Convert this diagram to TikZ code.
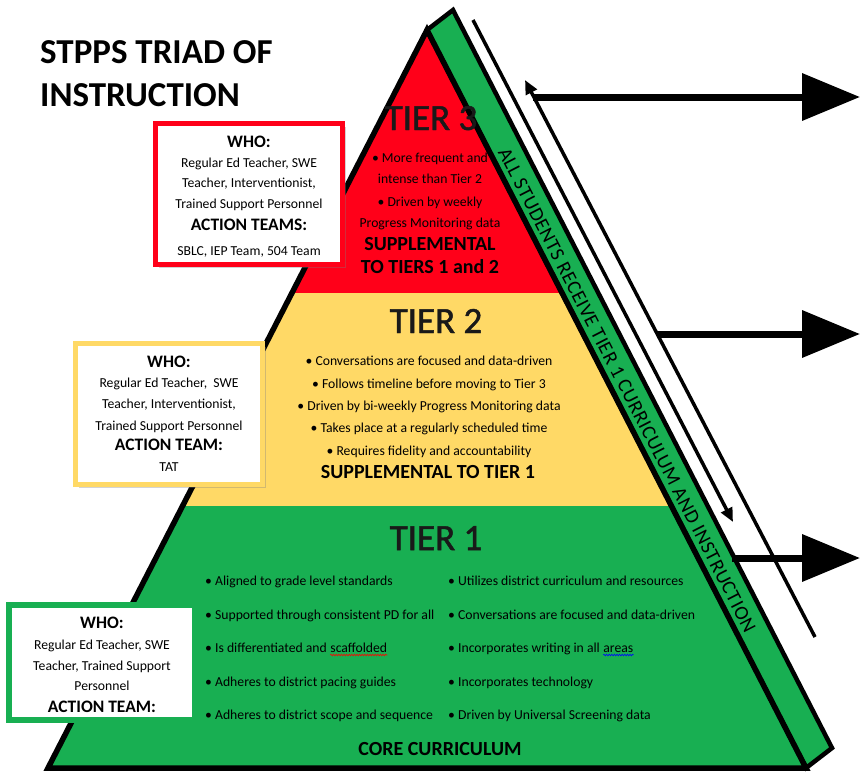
\documentclass[tikz,border=0pt]{standalone}
\usepackage{fontspec}
\setmainfont{Carlito}
\usetikzlibrary{arrows.meta,shadows,decorations.pathmorphing}

\definecolor{tierred}{RGB}{255,0,25}
\definecolor{tieryellow}{RGB}{255,217,102}
\definecolor{tiergreen}{RGB}{24,175,82}

\newcommand{\tierbody}{\fontsize{13.7}{16}\selectfont}
\newcommand{\tierbold}{\fontsize{20}{22}\selectfont\bfseries}
\newcommand{\boxbold}{\fontsize{17.5}{20}\selectfont\bfseries}

\tikzset{
  whobox/.style={draw=#1, line width=5pt, fill=white, minimum width=187pt, minimum height=141pt,
    drop shadow={shadow xshift=3pt, shadow yshift=-3pt, opacity=0.35}},
  tierhead/.style={font=\fontsize{37}{37}\selectfont\addfontfeature{FakeBold=1.3}, text=black!90,
    inner sep=0pt, anchor=base},
  bigarrow/.style={line width=7pt, -{Triangle[length=58pt,width=46pt]}},
  slimarrow/.style={line width=3.5pt, -{Triangle[length=14pt,width=12pt]}},
  spellmark/.style={draw=#1, line width=0.6pt, decorate,
    decoration={snake, amplitude=0.8pt, segment length=2.6pt}}
}

\begin{document}
\begin{tikzpicture}[x=1pt,y=-1pt]
\useasboundingbox (0,0) rectangle (860,772);

\fill[tierred] (427,30) -- (562,293) -- (292,293) -- cycle;
\fill[tieryellow] (292,293) -- (562,293) -- (671.5,506) -- (182.5,506) -- cycle;
\fill[tiergreen] (182.5,506) -- (671.5,506) -- (806,768) -- (48,768) -- cycle;
\filldraw[fill=tiergreen, draw=black, line width=4.5pt, line join=miter]
  (427,30) -- (453,10) -- (832,748) -- (806,768) -- cycle;
\draw[line width=5.5pt, line join=miter] (427,30) -- (806,768) -- (48,768) -- cycle;

\node[font=\fontsize{20}{20}\selectfont\addfontfeature{LetterSpace=2.5}, rotate=-62.8, inner sep=0pt]
  (allstudents) at (627,390) {ALL STUDENTS RECEIVE TIER 1 CURRICULUM AND INSTRUCTION};

\coordinate (downstart) at (473,20);
\coordinate (downend) at (733,522);
\coordinate (upstart) at (815,637);
\coordinate (upend) at (525,80);
\coordinate (out3) at (533,97);
\coordinate (out3tip) at (860,97);
\coordinate (out2) at (658,334);
\coordinate (out2tip) at (860,334);
\coordinate (out1) at (732,558);
\coordinate (out1tip) at (860,558);

\draw[slimarrow] (downstart) -- (downend);
\draw[slimarrow] (upstart) -- (upend);
\draw[bigarrow] (out3) -- (out3tip);
\draw[bigarrow] (out2) -- (out2tip);
\draw[bigarrow] (out1) -- (out1tip);

\begin{scope}[every node/.style={inner sep=0pt, anchor=base west, font=\fontsize{35}{35}\selectfont\bfseries}]
    \node (title1) at (40,63) {STPPS TRIAD OF};
    \node (title2) at (40,106) {INSTRUCTION};
\end{scope}

\node[tierhead] (t3head) at (431,130) {TIER 3};
\node[tierhead] (t2head) at (436,333) {TIER 2};
\node[tierhead] (t1head) at (436,550) {TIER 1};

\begin{scope}[every node/.style={inner sep=0pt, anchor=base, font=\tierbody}]
    \foreach \ty/\txt [count=\i] in {162/{• More frequent and}, 183/{intense than Tier 2},
        206/{• Driven by weekly}, 227/{Progress Monitoring data}}
        \node (t3line\i) at (430,\ty) {\txt};
    \node[font=\tierbold] (t3supp1) at (430,250) {SUPPLEMENTAL};
    \node[font=\tierbold] (t3supp2) at (430,273) {TO TIERS 1 and 2};

    \foreach \ty/\txt [count=\i] in {365/{• Conversations are focused and data-driven},
        388/{• Follows timeline before moving to Tier 3},
        410/{• Driven by bi-weekly Progress Monitoring data},
        432/{• Takes place at a regularly scheduled time},
        455/{• Requires fidelity and accountability}}
        \node (t2line\i) at (429,\ty) {\txt};
    \node[font=\tierbold] (t2supp) at (428,478) {SUPPLEMENTAL TO TIER 1};

    \foreach \ty/\txt [count=\i] in {585/{• Aligned to grade level standards},
        619/{• Supported through consistent PD for all},
        686/{• Adheres to district pacing guides},
        719/{• Adheres to district scope and sequence}}
        \node[anchor=base west] (t1left\i) at (205,\ty) {\txt};
    \node[anchor=base west] (t1leftd) at (205,652) {• Is differentiated and};
    \node[anchor=base west] (scaffolded) at ([xshift=3.1pt]t1leftd.base east) {scaffolded};

    \foreach \ty/\txt [count=\i] in {585/{• Utilizes district curriculum and resources},
        619/{• Conversations are focused and data-driven},
        686/{• Incorporates technology},
        719/{• Driven by Universal Screening data}}
        \node[anchor=base west] (t1right\i) at (448,\ty) {\txt};
    \node[anchor=base west] (t1rightw) at (448,652) {• Incorporates writing in all};
    \node[anchor=base west] (areas) at ([xshift=3.1pt]t1rightw.base east) {areas};
    \node[font=\tierbold] (core) at (440,755) {CORE CURRICULUM};
\end{scope}

\path[spellmark=red] ([yshift=-3pt]scaffolded.base west) -- ([yshift=-3pt]scaffolded.base east);
\path[spellmark=blue] ([yshift=-3pt]areas.base west) -- ([yshift=-3pt]areas.base east);

\node[whobox=tierred] (box3) at (249,194) {};
\node[whobox=tieryellow] (box2) at (169,414) {};
\node[whobox=tiergreen, line width=6pt, minimum width=186pt, minimum height=115pt] (box1) at (102,662.5) {};

\begin{scope}[every node/.style={inner sep=0pt, anchor=base, font=\tierbody}]
    \node[font=\boxbold] (box3who) at (249,147) {WHO:};
    \foreach \ty/\txt [count=\i] in {167/{Regular Ed Teacher, SWE}, 187/{Teacher, Interventionist,},
        208/{Trained Support Personnel}}
        \node (box3line\i) at (249,\ty) {\txt};
    \node[font=\boxbold] (box3team) at (249,230) {ACTION TEAMS:};
    \node (box3teams) at (249,255) {SBLC, IEP Team, 504 Team};

    \node[font=\boxbold] (box2who) at (169,367) {WHO:};
    \foreach \ty/\txt [count=\i] in {387/{Regular Ed Teacher,\ \ SWE}, 408/{Teacher, Interventionist,},
        430/{Trained Support Personnel}}
        \node (box2line\i) at (169,\ty) {\txt};
    \node[font=\boxbold] (box2team) at (169,450) {ACTION TEAM:};
    \node (box2teams) at (169,471) {TAT};

    \node[font=\boxbold] (box1who) at (102,628) {WHO:};
    \foreach \ty/\txt [count=\i] in {649/{Regular Ed Teacher, SWE}, 670/{Teacher, Trained Support},
        690/{Personnel}}
        \node (box1line\i) at (102,\ty) {\txt};
    \node[font=\boxbold] (box1team) at (102,712) {ACTION TEAM:};
\end{scope}
\end{tikzpicture}
\end{document}
